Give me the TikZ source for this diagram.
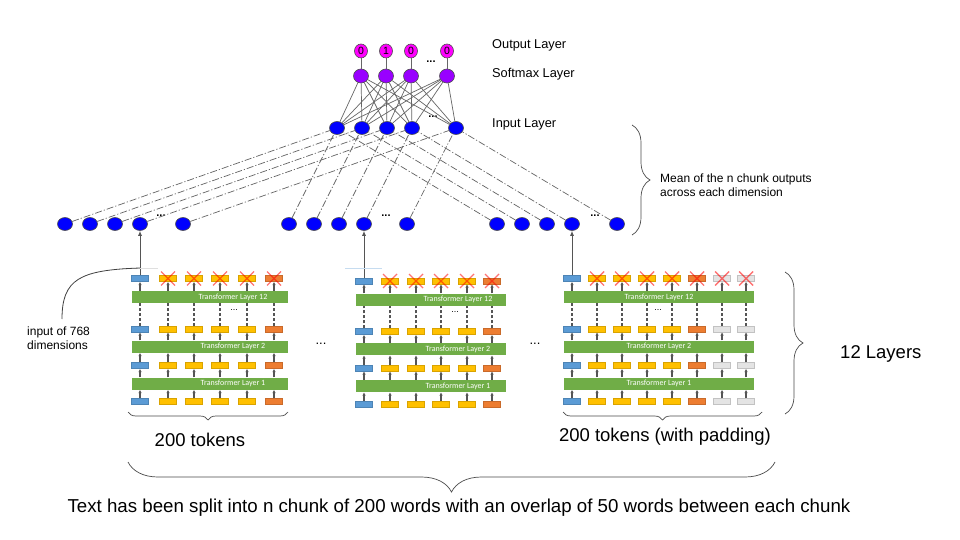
\documentclass[tikz,border=0pt]{standalone}
\usepackage{fontspec}
\setmainfont{Liberation Sans}
\newfontfamily\calfont{Carlito}
\usetikzlibrary{arrows.meta,shapes.geometric,decorations.pathreplacing,calc}
\definecolor{tokblue}{HTML}{5B9BD5}
\definecolor{tokyel}{HTML}{FFC000}
\definecolor{tokora}{HTML}{ED7D31}
\definecolor{tokgry}{HTML}{E4E4E4}
\definecolor{bargrn}{HTML}{70AD47}
\definecolor{nodeblue}{HTML}{0000FF}
\definecolor{smpurple}{HTML}{9900FF}
\definecolor{outmag}{HTML}{FF00FF}
\definecolor{edgegray}{HTML}{666666}
\definecolor{conngray}{HTML}{555555}
\tikzset{
 neuron/.style={ellipse, draw=gray!60!black, line width=0.6pt, minimum width=15pt, minimum height=13pt, inner sep=0pt, fill=nodeblue},
 smnode/.style={neuron, fill=smpurple, minimum width=15pt, minimum height=14pt},
 outnode/.style={neuron, fill=outmag, minimum width=13pt, minimum height=14pt, font=\fontsize{10.5}{10.5}\selectfont},
 fc/.style={draw=edgegray, line width=0.7pt},
 dashdot/.style={draw=edgegray, line width=0.7pt, dash pattern=on 7pt off 2pt on 1.2pt off 2pt},
 tok/.style={rectangle, minimum width=17pt, minimum height=6pt, inner sep=0pt, line width=0.4pt},
 tlayer/.style={rectangle, fill=bargrn, minimum height=12pt, inner sep=0pt},
 tltext/.style={text=white, font=\calfont\fontsize{8}{8}\selectfont, inner sep=0pt},
 flow/.style={draw=conngray, line width=1.1pt, -{Latex[length=3.5pt,width=3.5pt]}},
 flowd/.style={draw=conngray, line width=1.1pt, dash pattern=on 3pt off 2pt},
 xmark/.style={draw=red, line width=1.4pt, opacity=0.55},
 up/.style={draw=conngray, line width=0.9pt, -{Latex[length=5pt,width=4pt]}},
 lbl/.style={font=\fontsize{12}{14.5}\selectfont, anchor=west, inner sep=0pt},
 toplbl/.style={font=\fontsize{12.8}{14}\selectfont, anchor=west, inner sep=0pt},
 midlbl/.style={font=\fontsize{18.5}{19}\selectfont, inner sep=0pt},
 dotsty/.style={font=\bfseries\fontsize{11}{11}\selectfont, inner sep=0pt},
 brc/.style={decorate, decoration={brace, amplitude=#1}, draw=gray!60!black, line width=0.7pt},
 brc/.default=8
}
% #1 name, #2 x/colour list, #3 bar left, #4 bar right, #5 y offset, #6 text x, #7 dots x
\newcommand\tblock[7]{%
\begin{scope}[shift={(0,#5)}]
 \node[tlayer, minimum width={(#4-#3)*1pt}] (#1-L12) at ({(#3+#4)/2},297) {};
 \node[tlayer, minimum width={(#4-#3)*1pt}] (#1-L2) at ({(#3+#4)/2},346.5) {};
 \node[tlayer, minimum width={(#4-#3)*1pt}] (#1-L1) at ({(#3+#4)/2},383.5) {};
 \node[tltext] (#1-t12) at (#6,297) {Transformer Layer 12};
 \node[tltext] (#1-t2) at (#6,346.5) {Transformer Layer 2};
 \node[tltext] (#1-t1) at (#6,383.5) {Transformer Layer 1};
 \node[font=\fontsize{9}{9}\selectfont, inner sep=0pt] (#1-dots) at (#7,310) {...};
 \foreach \x/\cl [count=\i] in {#2} {
  \node[tok, fill=\cl, draw=\cl!85!black] (#1-\i-1) at (\x,278.5) {};
  \node[tok, fill=\cl, draw=\cl!85!black] (#1-\i-2) at (\x,329) {};
  \node[tok, fill=\cl, draw=\cl!85!black] (#1-\i-3) at (\x,365.5) {};
  \node[tok, fill=\cl, draw=\cl!85!black] (#1-\i-4) at (\x,401.5) {};
  \draw[flow] (#1-\i-4.north) -- (#1-\i-4.north |- #1-L1.south);
  \draw[flow] (#1-\i-4.north |- #1-L1.north) -- (#1-\i-3.south);
  \draw[flow] (#1-\i-3.north) -- (#1-\i-3.north |- #1-L2.south);
  \draw[flow] (#1-\i-3.north |- #1-L2.north) -- (#1-\i-2.south);
  \draw[flowd] (#1-\i-2.north) -- (#1-\i-2.north |- #1-L12.south);
  \draw[flow] (#1-\i-2.north |- #1-L12.north) -- (#1-\i-1.south);
  \ifnum\i>1
   \draw[xmark] ($(#1-\i-1)+(-7,-7)$) -- ($(#1-\i-1)+(7,7)$)
                ($(#1-\i-1)+(-7,7)$) -- ($(#1-\i-1)+(7,-7)$);
  \fi
 }
\end{scope}}
\begin{document}
\begin{tikzpicture}[x=1pt,y=-1pt]
\useasboundingbox (0,0) rectangle (960,540);
\fill[white] (0,0) rectangle (960,540);

% ---- top network
\foreach \x/\v [count=\i] in {361/0,386/1,411/0,447/0}
 \node[outnode] (out-\i) at (\x,51) {\v};
\foreach \x [count=\i] in {361,386,411,447}
 \node[smnode] (sm-\i) at (\x,76) {};
\foreach \x [count=\i] in {337,362,387,412,456}
 \node[neuron] (in-\i) at (\x,128) {};
\node[dotsty] (dtop) at (431,62) {...};
\node[dotsty] (din) at (433,117) {...};
\foreach \i in {1,...,4} \draw[fc] (out-\i) -- (sm-\i);
\foreach \i in {1,...,4} \foreach \j in {1,...,5} \draw[fc] (sm-\i) -- (in-\j);
\node[toplbl] (lout) at (492,45) {Output Layer};
\node[toplbl] (lsm) at (492,74) {Softmax Layer};
\node[toplbl] (lin) at (492,124) {Input Layer};

% ---- chunk output nodes
\foreach \x [count=\i] in {65,90,115,140,183} \node[neuron] (g1-\i) at (\x,224) {};
\foreach \x [count=\i] in {289,314,339,364,407} \node[neuron] (g2-\i) at (\x,224) {};
\foreach \x [count=\i] in {497,522,547,572,617} \node[neuron] (g3-\i) at (\x,224) {};
\node[dotsty] (dg1) at (161,216) {...};
\node[dotsty] (dg2) at (386,216) {...};
\node[dotsty] (dg3) at (595,216) {...};
\foreach \g in {g1,g2,g3} \foreach \i in {1,...,5} \draw[dashdot] (\g-\i) -- (in-\i);

% mean brace
\draw[brc=18] (632,125) -- (632,235);
\node[lbl, align=left] (lmean) at (660,185) {Mean of the n chunk outputs\\across each dimension};

% ---- transformer blocks
\tblock{b1}{140/tokblue,168/tokyel,194/tokyel,220/tokyel,247/tokyel,274/tokora}{132}{288}{0}{233}{234}
\tblock{b2}{364/tokblue,390/tokyel,416/tokyel,441/tokyel,467/tokyel,492/tokora}{356}{506}{2.5}{458}{455}
\tblock{b3}{572/tokblue,597/tokyel,622/tokyel,647/tokyel,672/tokyel,697/tokora,722/tokgry,746/tokgry}{564}{754}{0}{659}{658}

\draw[up] (b1-1-1.north) -- (g1-4.south);
\draw[up] (b2-1-1.north) -- (g2-4.south);
\draw[up] (b3-1-1.north) -- (g3-4.south);

\coordinate (fl1a) at (122,268); \coordinate (fl1b) at (158,268);
\coordinate (fl2a) at (345,268); \coordinate (fl2b) at (382,268);
\draw[gray!25, line width=0.6pt] (fl1a) -- (fl1b);
\draw[tokblue!35, line width=0.6pt] (fl2a) -- (fl2b);

\node[font=\fontsize{13}{13}\selectfont, inner sep=0pt] (dm1) at (321,344) {...};
\node[font=\fontsize{13}{13}\selectfont, inner sep=0pt] (dm2) at (535,344) {...};

% input of 768 dimensions
\node[lbl, align=left] (linp) at (27,338) {input of 768\\dimensions};
\coordinate (cvs) at (62,319);
\coordinate (cve) at (140,268);
\draw[draw=black!75, line width=0.8pt] (cvs) .. controls (62,279) and (80,270) .. (cve);

% braces
\draw[brc=8] (288,412) -- (128,412);
\node[midlbl] (l200) at (200,440) {200 tokens};
\draw[brc=8] (762,412) -- (563,412);
\node[midlbl] (l200p) at (665,437) {200 tokens (with padding)};
\draw[brc=18] (785,272) -- (785,414);
\node[midlbl, anchor=west] (l12) at (840,354) {12 Layers};
\draw[brc=30] (775,462) -- (128,462);
\node[font=\fontsize{18.7}{19}\selectfont, inner sep=0pt] (lbottom) at (459,508) {Text has been split into n chunk of 200 words with an overlap of 50 words between each chunk};
\end{tikzpicture}
\end{document}
